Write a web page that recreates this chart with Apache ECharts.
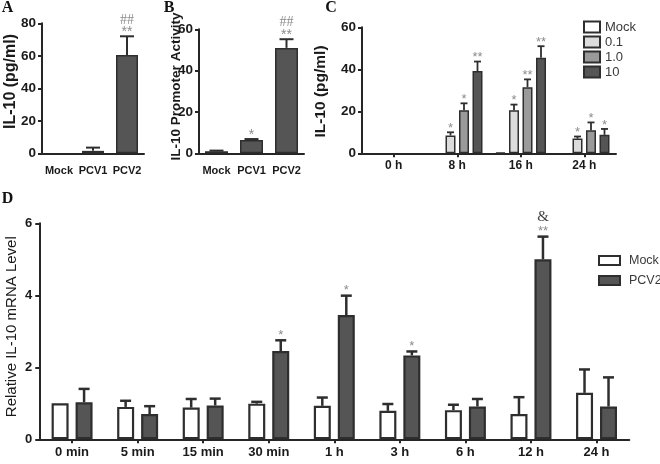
<!DOCTYPE html>
<html><head><meta charset="utf-8">
<script src="https://cdn.jsdelivr.net/npm/echarts@6/dist/echarts.min.js"></script>
<style>html,body{margin:0;padding:0;background:#fff}#c{width:660px;height:464px}</style>
</head><body><div id="c"></div>
<script>
// ---------- Panel A ----------
const catsA = ['Mock', 'PCV1', 'PCV2'];
const valsA = [null, 1.5, 60.5];
const errA = [0, 2, 11.5];
const starA = ['', '', '**'];
const markA = ['', '', '##'];
const ticksA = [0, 20, 40, 60, 80];
// ---------- Panel B ----------
const catsB = ['Mock', 'PCV1', 'PCV2'];
const valsB = [1, 6.4, 51];
const errB = [0.3, 0.5, 4.2];
const starB = ['', '*', '**'];
const markB = ['', '', '##'];
const ticksB = [0, 20, 40, 60];
// ---------- Panel C ----------
const catsC = ['0 h', '8 h', '16 h', '24 h'];
const seriesNamesC = ['Mock', '0.1', '1.0', '10'];
const mockC = [null, null, 0.4, null];
const mockErrC = [0, 0, 0, 0];
const c01 = [null, 8.5, 20.5, 7];
const c01Err = [0, 1.5, 2.7, 1];
const c10 = [null, 20.5, 31.5, 11];
const c10Err = [0, 3.3, 3.7, 3.7];
const c100 = [null, 39.2, 45.5, 8.8];
const c100Err = [0, 4.5, 5.5, 2.8];
const starMockC = ['', '', '', ''];
const star01 = ['', '*', '*', '*'];
const star10 = ['', '*', '**', '*'];
const star100 = ['', '**', '**', '*'];
const ticksC = [0, 20, 40, 60];
// ---------- Panel D ----------
const catsD = ['0 min', '5 min', '15 min', '30 min', '1 h', '3 h', '6 h', '12 h', '24 h'];
const mockD = [1.0, 0.9, 0.88, 0.99, 0.93, 0.79, 0.81, 0.70, 1.29];
const mockErrD = [0, 0.17, 0.24, 0.05, 0.23, 0.19, 0.15, 0.47, 0.65];
const pcv2D = [1.03, 0.70, 0.94, 2.45, 3.45, 2.33, 0.91, 5.0, 0.91];
const pcv2ErrD = [0.37, 0.22, 0.19, 0.30, 0.54, 0.11, 0.21, 0.63, 0.81];
const starMockD = ['', '', '', '', '', '', '', '', ''];
const starPcv2D = ['', '', '', '*', '*', '*', '', '**', ''];
const markPcv2D = ['', '', '', '', '', '', '', '&', ''];
const ticksD = [0, 2, 4, 6];

const SANS = "'Liberation Sans', Arial, sans-serif";
const SERIF = "'Liberation Serif', 'Times New Roman', serif";
const AX = '#262626';
const DARK = '#555555';
const EDGE = '#2e2e2e';

function xAx(grid, cats, fs, margin, ticks) {
  return {
    type: 'category', gridIndex: grid, data: cats,
    axisLine: { lineStyle: { color: AX, width: 2 } },
    axisTick: { show: ticks, alignWithLabel: true, length: 4, lineStyle: { color: AX, width: 2 } },
    axisLabel: { fontFamily: SANS, fontWeight: 'bold', fontSize: fs, color: '#1a1a1a', margin: margin, interval: 0 },
    splitLine: { show: false }
  };
}
function yAx(grid, ticks, fs, margin) {
  return {
    type: 'value', gridIndex: grid, min: ticks[0], max: ticks[ticks.length - 1],
    interval: ticks[1] - ticks[0],
    axisLine: { show: true, lineStyle: { color: AX, width: 2 } },
    axisTick: { show: true, length: 4, lineStyle: { color: AX, width: 2 } },
    axisLabel: { fontFamily: SANS, fontWeight: 'bold', fontSize: fs, color: '#1a1a1a', margin: margin },
    splitLine: { show: false }
  };
}
function bar(name, grid, vals, fill, bw, gap, bwid) {
  return {
    type: 'bar', name: name, xAxisIndex: grid, yAxisIndex: grid, data: vals,
    barWidth: bw, barGap: gap, silent: true,
    itemStyle: { color: fill, borderColor: EDGE, borderWidth: bwid },
    emphasis: { disabled: true }
  };
}
function errs(grid, vals, errv, line1, line2, k, n, bw, gapPx, capW, lw, opt) {
  return {
    type: 'custom', xAxisIndex: grid, yAxisIndex: grid, z: 5, silent: true, clip: false,
    data: vals.map((v, i) => [i, v == null ? 0 : v, (v == null ? 0 : v) + errv[i]]),
    encode: { x: 0, y: [1, 2] },
    renderItem: function (params, api) {
      const i = params.dataIndex;
      const base = api.coord([api.value(0), api.value(1)]);
      const top = api.coord([api.value(0), api.value(2)]);
      const x = base[0] + (k - (n - 1) / 2) * (bw + gapPx);
      const ch = [];
      if (errv[i] > 0) {
        ch.push({ type: 'line', shape: { x1: x, y1: base[1], x2: x, y2: top[1] }, style: { stroke: EDGE, lineWidth: lw } });
        ch.push({ type: 'line', shape: { x1: x - capW / 2, y1: top[1], x2: x + capW / 2, y2: top[1] }, style: { stroke: EDGE, lineWidth: lw } });
      }
      if (line1[i]) {
        ch.push({ type: 'text', x: x, y: top[1] - opt.s1, style: { text: line1[i], textAlign: 'center', textVerticalAlign: 'middle', fill: '#8c8c8c', font: opt.sf + 'px ' + SANS } });
      }
      if (line2 && line2[i]) {
        ch.push({ type: 'text', x: x, y: top[1] - opt.s2, style: { text: line2[i], textAlign: 'center', textVerticalAlign: 'middle', fill: opt.c2, font: opt.f2 + 'px ' + SERIF } });
      }
      return { type: 'group', children: ch };
    }
  };
}

const chart = echarts.init(document.getElementById('c'), null, { renderer: 'canvas' });
const legendText = { fontFamily: SANS, fontSize: 13, color: '#3a3a3a' };
chart.setOption({
  backgroundColor: '#ffffff',
  animation: false,
  grid: [
    { left: 42, top: 23.3, width: 102, height: 130 },
    { left: 199, top: 29.3, width: 105, height: 124 },
    { left: 362, top: 27.3, width: 254, height: 126 },
    { left: 39.3, top: 223.3, width: 590, height: 216 }
  ],
  xAxis: [xAx(0, catsA, 11, 12, false), xAx(1, catsB, 11, 12, false), xAx(2, catsC, 12, 6, true), xAx(3, catsD, 13, 7, true)],
  yAxis: [yAx(0, ticksA, 13.5, 6), yAx(1, ticksB, 13.5, 6), yAx(2, ticksC, 13.5, 6), yAx(3, ticksD, 13, 7)],
  legend: [
    { orient: 'vertical', left: 578, top: 15.5, itemWidth: 16, itemHeight: 11, itemGap: 2, icon: 'rect',
      data: seriesNamesC, textStyle: legendText, selectedMode: false },
    { orient: 'vertical', left: 593, top: 249, itemWidth: 21, itemHeight: 9, itemGap: 7, icon: 'rect',
      data: ['Mock', 'PCV2'], textStyle: { fontFamily: SANS, fontSize: 12.5, color: '#3a3a3a', padding: [0, 0, 0, 4] }, selectedMode: false }
  ],
  graphic: [
    { type: 'text', x: 7.5, y: 8, style: { text: 'A', font: 'bold 16px ' + SERIF, fill: '#111', textAlign: 'center', textVerticalAlign: 'middle' } },
    { type: 'text', x: 169, y: 8, style: { text: 'B', font: 'bold 16px ' + SERIF, fill: '#111', textAlign: 'center', textVerticalAlign: 'middle' } },
    { type: 'text', x: 331, y: 8, style: { text: 'C', font: 'bold 16px ' + SERIF, fill: '#111', textAlign: 'center', textVerticalAlign: 'middle' } },
    { type: 'text', x: 7.5, y: 199, style: { text: 'D', font: 'bold 16px ' + SERIF, fill: '#111', textAlign: 'center', textVerticalAlign: 'middle' } },
    { type: 'text', x: 11, y: 81.5, rotation: Math.PI / 2, style: { text: 'IL-10 (pg/ml)', font: 'bold 16px ' + SANS, fill: '#1a1a1a', textAlign: 'center', textVerticalAlign: 'middle' } },
    { type: 'text', x: 176, y: 86.5, rotation: Math.PI / 2, style: { text: 'IL-10 Promoter Activity', font: 'bold 13.5px ' + SANS, fill: '#1a1a1a', textAlign: 'center', textVerticalAlign: 'middle' } },
    { type: 'text', x: 321, y: 91.5, rotation: Math.PI / 2, style: { text: 'IL-10 (pg/ml)', font: 'bold 15.5px ' + SANS, fill: '#1a1a1a', textAlign: 'center', textVerticalAlign: 'middle' } },
    { type: 'text', x: 12, y: 326.7, rotation: Math.PI / 2, style: { text: 'Relative IL-10 mRNA Level', font: '15px ' + SANS, fill: '#1a1a1a', textAlign: 'center', textVerticalAlign: 'middle' } }
  ],
  series: [
    bar('A', 0, valsA, DARK, 22, '0%', 1.5),
    errs(0, valsA, errA, starA, markA, 0, 1, 22, 0, 14, 2, { s1: 4, sf: 14, s2: 16, f2: 14, c2: '#8c8c8c' }),
    bar('B', 1, valsB, DARK, 23, '0%', 1.5),
    errs(1, valsB, errB, starB, markB, 0, 1, 23, 0, 14, 2, { s1: 4, sf: 14, s2: 17, f2: 14, c2: '#8c8c8c' }),

    bar('Mock', 2, mockC, '#ffffff', 10, '35%', 1.5),
    bar('0.1', 2, c01, '#dcdcdc', 10, '35%', 1.5),
    bar('1.0', 2, c10, '#9a9a9a', 10, '35%', 1.5),
    bar('10', 2, c100, DARK, 10, '35%', 1.5),
    errs(2, mockC, mockErrC, starMockC, null, 0, 4, 10, 3.5, 7, 1.8, { s1: 4, sf: 13 }),
    errs(2, c01, c01Err, star01, null, 1, 4, 10, 3.5, 7, 1.8, { s1: 4, sf: 13 }),
    errs(2, c10, c10Err, star10, null, 2, 4, 10, 3.5, 7, 1.8, { s1: 4, sf: 13 }),
    errs(2, c100, c100Err, star100, null, 3, 4, 10, 3.5, 7, 1.8, { s1: 4, sf: 13 }),

    bar('Mock', 3, mockD, '#ffffff', 17, '41%', 2.2),
    bar('PCV2', 3, pcv2D, DARK, 17, '41%', 2.2),
    errs(3, mockD, mockErrD, starMockD, null, 0, 2, 17, 7, 11, 2.5, { s1: 4, sf: 13 }),
    errs(3, pcv2D, pcv2ErrD, starPcv2D, markPcv2D, 1, 2, 17, 7, 11, 2.5, { s1: 5, sf: 13, s2: 20, f2: 15, c2: '#444444' })
  ]
});
</script></body></html>
